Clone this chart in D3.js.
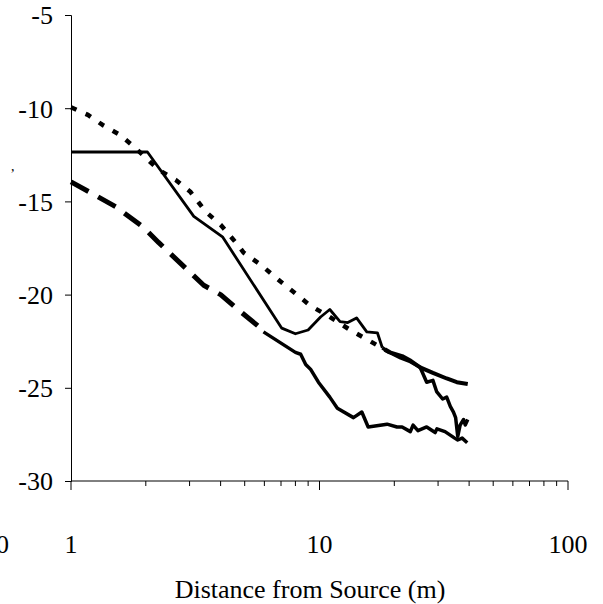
<!DOCTYPE html>
<html>
<head>
<meta charset="utf-8">
<script src="https://cdn.jsdelivr.net/npm/d3@7"></script>
<style>
  html, body { margin: 0; padding: 0; background: #fff; }
  svg text { font-family: "Liberation Serif", "Times New Roman", Times, "DejaVu Serif", serif; fill: #000; }
</style>
</head>
<body>
<svg id="chart" width="603" height="604"></svg>
<script>
// ---- data ----
const xTickValues = [1, 10, 100];
const xTickLabels = ["1", "10", "100"];
const yTickValues = [-30, -25, -20, -15, -10, -5];
const xTitle = "Distance from Source (m)";

// dotted series (smooth)
const dottedX = [1, 1.17, 1.34, 1.56, 1.77, 2.25, 2.64, 3.03, 3.48, 4.0, 4.6, 4.95, 5.8, 6.97, 8.1, 9.2, 10.7, 12.1, 13.3, 15.5, 17.5, 19.2, 21.5, 23.3, 25.4, 28.6, 32.5, 35.7, 39.5];
const dottedY = [-9.95, -10.36, -10.9, -11.4, -12.0, -13.3, -13.85, -14.5, -15.55, -16.25, -17.2, -17.75, -18.4, -19.3, -20.0, -20.6, -21.1, -21.55, -21.9, -22.4, -22.8, -23.1, -23.3, -23.55, -23.9, -24.2, -24.5, -24.7, -24.8];

// solid series (upper)
const solidX = [1, 2.03, 3.12, 4.07, 7.05, 8.0, 9.0, 10.1, 11.0, 12.1, 13.0, 14.1, 15.5, 17.1, 17.9, 18.8, 21.2, 23.2, 25.4, 27.0, 28.6, 29.6, 31.3, 32.5, 33.6, 34.6, 35.3, 36.0, 36.8, 38.0, 38.6, 39.5];
const solidY = [-12.35, -12.35, -15.8, -16.9, -21.8, -22.1, -21.9, -21.2, -20.8, -21.45, -21.5, -21.25, -22.0, -22.05, -22.85, -23.05, -23.4, -23.6, -23.9, -24.7, -24.6, -25.2, -25.6, -25.5, -26.0, -26.3, -26.6, -27.6, -27.0, -26.7, -27.0, -26.7];

// long-dashed series (lower)
const dashedX = [1, 1.52, 1.96, 2.25, 3.42, 4.0, 4.6, 5.8, 5.95, 8.0, 8.4, 8.8, 9.2, 9.9, 11.0, 11.8, 13.7, 14.8, 15.7, 18.7, 20.5, 21.5, 23.2, 23.8, 24.9, 27.0, 29.2, 29.7, 32.0, 35.0, 36.0, 37.5, 39.3];
const dashedY = [-13.95, -15.3, -16.4, -17.2, -19.5, -20.0, -20.7, -21.8, -22.0, -23.1, -23.2, -23.75, -24.0, -24.7, -25.5, -26.1, -26.6, -26.3, -27.1, -26.95, -27.1, -27.1, -27.35, -27.0, -27.3, -27.1, -27.4, -27.2, -27.35, -27.7, -27.8, -27.7, -27.95];

// ---- layout ----
const svg = d3.select("#chart");
const x = d3.scaleLog().domain([1, 100]).range([71, 568]);
const y = d3.scaleLinear().domain([-30, -5]).range([481, 15]);

// y axis
const yAxis = d3.axisLeft(y).tickValues(yTickValues).tickSize(6).tickFormat(d3.format("d"));
const gy = svg.append("g").attr("transform", `translate(${x(1)},0)`).call(yAxis);
gy.attr("font-family", null);
gy.select(".domain").attr("stroke", "#000").attr("stroke-width", 1);
gy.selectAll(".tick line").attr("stroke", "#000");
gy.selectAll(".tick text")
  .attr("font-size", 26).attr("x", -18).attr("dy", "0.34em")
  .text(d => String(d));

// x axis (line + ticks drawn with scale)
const gx = svg.append("g").attr("transform", `translate(0,${y(-30)})`);
const minorTicks = [];
for (let dec = 1; dec < 100; dec *= 10) for (let k = 2; k <= 9; k++) minorTicks.push(dec * k);
gx.append("line").attr("x1", x(1)).attr("x2", x(100)).attr("y1", 0).attr("y2", 0).attr("stroke", "#000").attr("stroke-width", 1);
gx.selectAll(".minor").data(minorTicks).enter().append("line")
  .attr("x1", d => x(d)).attr("x2", d => x(d)).attr("y1", 0).attr("y2", 5)
  .attr("stroke", "#000").attr("stroke-width", 1);
gx.selectAll(".major").data(xTickValues).enter().append("line")
  .attr("x1", d => x(d)).attr("x2", d => x(d)).attr("y1", 0).attr("y2", 9)
  .attr("stroke", "#000").attr("stroke-width", 1);
svg.selectAll(".xlab").data(xTickValues).enter().append("text")
  .attr("x", d => x(d)).attr("y", 553).attr("text-anchor", "middle")
  .attr("font-size", 26).text((d, i) => xTickLabels[i]);

// partial label at left edge (cut off in the original too)
svg.append("text").attr("x", 9).attr("y", 553).attr("text-anchor", "end").attr("font-size", 26).text("0");
svg.append("text").attr("x", 11).attr("y", 171).attr("font-size", 14).text(",");

// title
svg.append("text").attr("x", 310).attr("y", 598).attr("text-anchor", "middle")
  .attr("font-size", 26).text(xTitle);

// ---- series ----
const line = d3.line().x(d => x(d[0])).y(d => y(d[1]));
function pts(xs, ys) { return xs.map((v, i) => [v, ys[i]]); }
function drawSplit(xs, ys, split, sparseStyle, denseStyle) {
  const p = pts(xs, ys);
  const a = p.filter(d => d[0] <= split);
  const b = p.filter(d => d[0] >= split);
  svg.append("path").attr("d", line(a)).attr("fill", "none").attr("stroke", "#000")
    .attr("stroke-width", sparseStyle.w).attr("stroke-dasharray", sparseStyle.dash || null)
    .attr("stroke-linejoin", "round");
  if (b.length > 1) {
    svg.append("path").attr("d", line(b)).attr("fill", "none").attr("stroke", "#000")
      .attr("stroke-width", denseStyle.w).attr("stroke-linejoin", "round");
  }
}
drawSplit(dottedX, dottedY, 19.2, { w: 4.5, dash: "6,10" }, { w: 4 });
drawSplit(dashedX, dashedY, 5.95, { w: 5, dash: "20,11" }, { w: 3.5 });
drawSplit(solidX, solidY, 17.9, { w: 2.8 }, { w: 3.5 });
</script>
</body>
</html>
